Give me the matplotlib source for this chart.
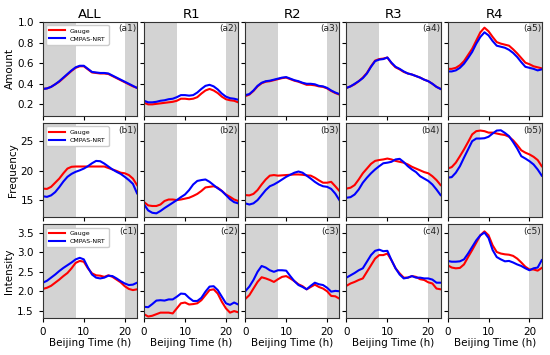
import matplotlib
matplotlib.use('Agg')
import matplotlib.pyplot as plt
import numpy as np

hours = np.arange(24)
regions = ['ALL', 'R1', 'R2', 'R3', 'R4']
row_names = ['Amount', 'Frequency', 'Intensity']
row_letters = ['a', 'b', 'c']

# amount (mm/h)
amount_gauge = [
    [0.35, 0.355, 0.37, 0.395, 0.42, 0.455, 0.49, 0.525, 0.555, 0.57, 0.57, 0.54, 0.51, 0.505, 0.50, 0.50, 0.495, 0.475, 0.455, 0.435, 0.415, 0.395, 0.375, 0.36],
    [0.215, 0.20, 0.20, 0.205, 0.21, 0.215, 0.22, 0.225, 0.235, 0.255, 0.255, 0.25, 0.255, 0.27, 0.305, 0.335, 0.35, 0.335, 0.31, 0.275, 0.25, 0.24, 0.235, 0.22],
    [0.28, 0.295, 0.33, 0.375, 0.405, 0.42, 0.425, 0.435, 0.445, 0.455, 0.46, 0.445, 0.43, 0.42, 0.405, 0.39, 0.39, 0.385, 0.375, 0.37, 0.355, 0.33, 0.31, 0.295],
    [0.36, 0.375, 0.395, 0.425, 0.46, 0.505, 0.57, 0.625, 0.64, 0.645, 0.655, 0.60, 0.56, 0.54, 0.515, 0.50, 0.49, 0.475, 0.46, 0.44, 0.425, 0.40, 0.37, 0.35],
    [0.545, 0.545, 0.555, 0.58, 0.62, 0.68, 0.74, 0.82, 0.90, 0.945, 0.91, 0.855, 0.805, 0.79, 0.78, 0.77, 0.735, 0.695, 0.65, 0.605, 0.59, 0.57, 0.56, 0.55],
]
amount_cmpas = [
    [0.35, 0.355, 0.37, 0.395, 0.425, 0.46, 0.495, 0.53, 0.56, 0.575, 0.575, 0.545, 0.515, 0.51, 0.505, 0.505, 0.50, 0.48, 0.46, 0.44, 0.42, 0.40, 0.38, 0.36],
    [0.235, 0.22, 0.22, 0.225, 0.235, 0.24, 0.25, 0.255, 0.27, 0.29, 0.29, 0.285, 0.29, 0.315, 0.35, 0.38, 0.39, 0.375, 0.345, 0.305, 0.275, 0.26, 0.255, 0.245],
    [0.29, 0.30, 0.335, 0.38, 0.41, 0.425, 0.43, 0.44, 0.45, 0.46, 0.465, 0.45, 0.435, 0.425, 0.41, 0.40, 0.40, 0.395, 0.38, 0.375, 0.36, 0.335, 0.315, 0.30],
    [0.36, 0.375, 0.40, 0.425, 0.455, 0.50, 0.565, 0.62, 0.635, 0.64, 0.655, 0.605, 0.565, 0.545, 0.52, 0.50, 0.49, 0.475, 0.46, 0.44, 0.425, 0.40, 0.37, 0.35],
    [0.52, 0.52, 0.53, 0.555, 0.595, 0.65, 0.71, 0.79, 0.855, 0.90, 0.87, 0.815, 0.77, 0.76, 0.75, 0.73, 0.70, 0.66, 0.61, 0.565, 0.555, 0.545, 0.53, 0.54],
]

# frequency (%)
freq_gauge = [
    [17.0, 16.95, 17.3, 18.0, 18.7, 19.6, 20.4, 20.7, 20.75, 20.75, 20.75, 20.75, 20.75, 20.75, 20.75, 20.75, 20.5, 20.25, 20.0, 19.7, 19.6, 19.3, 18.7, 17.6],
    [14.7, 14.15, 14.05, 14.05, 14.3, 14.9, 15.15, 15.15, 15.05, 15.15, 15.3, 15.45, 15.75, 16.1, 16.6, 17.2, 17.3, 17.4, 17.15, 16.6, 16.0, 15.6, 15.15, 14.9],
    [15.9, 15.85, 16.1, 16.75, 17.7, 18.55, 19.2, 19.3, 19.2, 19.25, 19.3, 19.35, 19.4, 19.4, 19.35, 19.25, 19.2, 18.85, 18.4, 18.0, 18.0, 18.15, 17.4, 16.6],
    [17.0, 17.15, 17.6, 18.55, 19.6, 20.4, 21.2, 21.7, 21.85, 21.95, 22.1, 21.95, 21.7, 21.55, 21.4, 21.1, 20.7, 20.4, 20.1, 19.8, 19.6, 19.1, 18.45, 17.6],
    [20.4, 20.65, 21.4, 22.5, 23.65, 24.9, 26.2, 26.75, 26.85, 26.75, 26.5, 26.5, 26.35, 26.2, 26.1, 25.8, 25.2, 24.4, 23.5, 23.1, 22.8, 22.4, 21.85, 20.8],
]
freq_cmpas = [
    [15.7, 15.6, 15.85, 16.4, 17.25, 18.2, 19.0, 19.5, 19.85, 20.1, 20.4, 20.8, 21.3, 21.7, 21.65, 21.25, 20.75, 20.25, 19.85, 19.5, 19.0, 18.45, 17.8, 16.2],
    [14.3, 13.3, 12.9, 12.8, 13.2, 13.7, 14.15, 14.6, 15.05, 15.55, 16.0, 16.75, 17.7, 18.3, 18.45, 18.55, 18.15, 17.6, 17.05, 16.6, 15.9, 15.2, 14.7, 14.5],
    [14.5, 14.3, 14.5, 15.05, 15.9, 16.75, 17.4, 17.7, 18.1, 18.55, 19.0, 19.35, 19.7, 19.9, 19.7, 19.2, 18.7, 18.15, 17.7, 17.4, 17.3, 16.95, 16.15, 15.05],
    [15.45, 15.55, 16.0, 16.85, 18.0, 18.85, 19.6, 20.25, 20.8, 21.3, 21.4, 21.55, 21.95, 22.05, 21.5, 20.8, 20.25, 19.8, 19.1, 18.7, 18.3, 17.7, 16.85, 15.9],
    [18.85, 18.95, 19.7, 20.8, 22.25, 23.65, 25.05, 25.5, 25.5, 25.55, 25.8, 26.35, 26.85, 26.9, 26.45, 25.9, 24.9, 23.8, 22.5, 22.1, 21.65, 21.1, 20.25, 19.2],
]

# intensity (mm/h)
inten_gauge = [
    [2.06, 2.09, 2.14, 2.22, 2.30, 2.39, 2.47, 2.59, 2.73, 2.78, 2.76, 2.59, 2.46, 2.41, 2.40, 2.37, 2.41, 2.37, 2.30, 2.23, 2.13, 2.06, 2.03, 2.05],
    [1.41, 1.35, 1.37, 1.41, 1.45, 1.45, 1.45, 1.43, 1.56, 1.69, 1.71, 1.66, 1.67, 1.69, 1.77, 1.90, 2.03, 2.05, 1.94, 1.73, 1.56, 1.45, 1.49, 1.46],
    [1.80, 1.90, 2.07, 2.24, 2.36, 2.33, 2.29, 2.24, 2.31, 2.37, 2.39, 2.33, 2.26, 2.18, 2.13, 2.05, 2.11, 2.17, 2.11, 2.07, 2.00, 1.88, 1.87, 1.81],
    [2.14, 2.20, 2.24, 2.29, 2.33, 2.50, 2.67, 2.84, 2.93, 2.93, 2.97, 2.80, 2.59, 2.46, 2.35, 2.35, 2.39, 2.37, 2.31, 2.29, 2.23, 2.20, 2.07, 2.05],
    [2.67, 2.61, 2.59, 2.60, 2.69, 2.88, 3.06, 3.25, 3.44, 3.54, 3.44, 3.18, 3.01, 2.97, 2.95, 2.94, 2.91, 2.84, 2.74, 2.63, 2.56, 2.56, 2.53, 2.60],
]
inten_cmpas = [
    [2.22, 2.27, 2.35, 2.43, 2.52, 2.60, 2.67, 2.74, 2.82, 2.86, 2.82, 2.61, 2.43, 2.35, 2.33, 2.35, 2.40, 2.39, 2.33, 2.26, 2.20, 2.16, 2.17, 2.22],
    [1.60, 1.59, 1.67, 1.76, 1.77, 1.76, 1.79, 1.79, 1.86, 1.94, 1.93, 1.83, 1.75, 1.75, 1.83, 1.99, 2.12, 2.13, 2.03, 1.86, 1.69, 1.65, 1.71, 1.66],
    [2.00, 2.12, 2.29, 2.50, 2.65, 2.61, 2.54, 2.50, 2.54, 2.54, 2.53, 2.39, 2.26, 2.16, 2.11, 2.05, 2.14, 2.22, 2.18, 2.16, 2.09, 1.99, 2.01, 2.00],
    [2.35, 2.41, 2.47, 2.54, 2.59, 2.76, 2.93, 3.04, 3.07, 3.03, 3.04, 2.80, 2.59, 2.43, 2.33, 2.35, 2.39, 2.35, 2.35, 2.33, 2.33, 2.30, 2.22, 2.22],
    [2.78, 2.76, 2.76, 2.77, 2.82, 2.97, 3.14, 3.31, 3.44, 3.51, 3.37, 3.06, 2.88, 2.82, 2.77, 2.78, 2.74, 2.69, 2.65, 2.59, 2.54, 2.59, 2.61, 2.80],
]

gauge_rows = [amount_gauge, freq_gauge, inten_gauge]
cmpas_rows = [amount_cmpas, freq_cmpas, inten_cmpas]
ylims = [(0.09, 1.0), (12.2, 28.1), (1.31, 3.72)]
yticks = [[0.2, 0.4, 0.6, 0.8, 1.0], [15, 20, 25], [1.5, 2.0, 2.5, 3.0, 3.5]]

fig, axes = plt.subplots(3, 5, figsize=(5.5, 3.55), dpi=100, sharex=True, sharey='row')
plt.subplots_adjust(left=0.078, right=0.985, top=0.938, bottom=0.104, wspace=0.075, hspace=0.08)

for r in range(3):
    for c in range(5):
        ax = axes[r, c]
        # night time shading
        ax.axvspan(0, 8, color='lightgray', lw=0, zorder=0)
        ax.axvspan(20, 23, color='lightgray', lw=0, zorder=0)
        ax.plot(hours, gauge_rows[r][c], color='red', lw=1.5, label='Gauge')
        ax.plot(hours, cmpas_rows[r][c], color='blue', lw=1.5, label='CMPAS-NRT')
        ax.set_xlim(0, 23)
        ax.set_ylim(*ylims[r])
        ax.set_yticks(yticks[r])
        ax.set_xticks([0, 10, 20])
        ax.tick_params(labelsize=7.5, length=3, width=0.8)
        for s in ax.spines.values():
            s.set_color('#333333')
        ax.text(0.995, 0.975, '(%s%d)' % (row_letters[r], c + 1), transform=ax.transAxes,
                ha='right', va='top', fontsize=6.5, color='#222222')
        if r == 0:
            ax.set_title(regions[c], fontsize=9.5, pad=3)
        if c == 0:
            ax.set_ylabel(row_names[r], fontsize=7.5, labelpad=2)
            ax.legend(loc='upper left', fontsize=4.5, handlelength=2.5, borderpad=0.5,
                      labelspacing=0.4, framealpha=1)
        if r == 2:
            ax.set_xlabel('Beijing Time (h)', fontsize=7.5, labelpad=1)

plt.savefig('out.png', dpi=100)
